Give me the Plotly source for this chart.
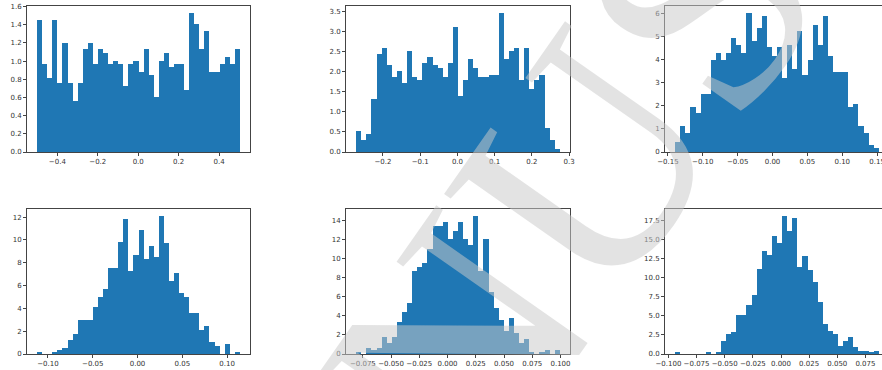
import plotly.graph_objects as go

# ---- data: density histogram heights (40 bins each) and bin ranges ----
h1 = [1.45, 0.97, 0.81, 1.45, 0.76, 1.20, 0.76, 0.56, 0.76, 1.13,
      1.20, 0.97, 1.13, 1.09, 0.97, 1.00, 0.97, 0.73, 0.97, 1.00,
      0.88, 1.13, 0.85, 0.61, 1.00, 1.09, 0.93, 0.97, 0.97, 0.68,
      1.53, 1.41, 1.13, 1.33, 0.88, 0.88, 0.97, 1.05, 0.97, 1.13]
h2 = [0.52, 0.30, 0.45, 1.33, 2.44, 2.59, 2.16, 1.86, 2.01, 1.71,
      2.52, 1.86, 1.79, 2.23, 2.37, 2.16, 2.09, 1.86, 2.23, 3.12,
      1.41, 1.79, 2.31, 2.09, 1.86, 1.86, 1.93, 1.93, 3.47, 2.31,
      2.52, 2.59, 1.79, 2.59, 1.56, 1.79, 1.93, 0.60, 0.30, 0.07]
h3 = [0.42, 1.12, 0.84, 1.93, 1.68, 2.50, 2.50, 3.98, 4.28, 3.98,
      4.28, 4.93, 4.65, 4.28, 6.02, 4.82, 5.38, 5.90, 4.55, 4.17,
      4.55, 3.20, 4.65, 3.60, 5.25, 3.32, 3.98, 5.50, 4.65, 5.90,
      4.17, 3.45, 3.45, 3.45, 1.93, 2.10, 1.12, 0.84, 0.30, 0.16]
h4 = [0.18, 0.00, 0.00, 0.18, 0.35, 0.53, 1.20, 1.75, 3.00, 3.00,
      3.00, 4.10, 5.00, 5.70, 7.50, 7.50, 9.80, 11.80, 7.30, 8.70,
      10.90, 8.30, 9.50, 8.50, 12.10, 9.70, 6.40, 7.10, 5.35, 5.00,
      3.60, 3.60, 2.10, 2.45, 1.06, 0.71, 0.00, 0.88, 0.00, 0.18]
h5 = [0.22, 0.00, 0.66, 0.44, 0.66, 1.77, 1.11, 1.77, 3.40, 4.40,
      5.40, 8.70, 9.15, 9.60, 11.00, 13.40, 13.40, 13.90, 12.10, 12.90,
      13.90, 12.10, 11.40, 14.50, 8.70, 12.10, 6.55, 4.80, 3.60, 2.44,
      3.80, 2.22, 1.11, 1.55, 0.22, 0.00, 0.22, 0.44, 0.00, 0.44]
h6 = [0.22, 0.00, 0.00, 0.00, 0.00, 0.00, 0.22, 0.00, 0.22, 1.70,
      2.60, 2.90, 5.10, 5.10, 6.40, 7.70, 11.20, 13.50, 13.00, 15.50,
      14.50, 18.10, 16.10, 17.80, 11.40, 12.80, 11.00, 9.40, 6.80, 3.90,
      3.00, 2.60, 1.10, 1.70, 2.20, 0.88, 0.44, 0.44, 0.22, 0.44]
heights = [h1, h2, h3, h4, h5, h6]

bin_lo = [-0.500, -0.272, -0.1395, -0.1121, -0.0809, -0.0940]
bin_hi = [0.503, 0.275, 0.1524, 0.1143, 0.0994, 0.0869]

xticks = [
    [-0.4, -0.2, 0.0, 0.2, 0.4],
    [-0.2, -0.1, 0.0, 0.1, 0.2, 0.3],
    [-0.15, -0.10, -0.05, 0.0, 0.05, 0.10, 0.15],
    [-0.10, -0.05, 0.0, 0.05, 0.10],
    [-0.075, -0.050, -0.025, 0.0, 0.025, 0.050, 0.075, 0.100],
    [-0.100, -0.075, -0.050, -0.025, 0.0, 0.025, 0.050, 0.075],
]
xdec = [1, 1, 2, 2, 3, 3]
yticks = [
    [0.0, 0.2, 0.4, 0.6, 0.8, 1.0, 1.2, 1.4, 1.6],
    [0.0, 0.5, 1.0, 1.5, 2.0, 2.5, 3.0, 3.5],
    [0, 1, 2, 3, 4, 5, 6],
    [0, 2, 4, 6, 8, 10, 12],
    [0, 2, 4, 6, 8, 10, 12, 14],
    [0.0, 2.5, 5.0, 7.5, 10.0, 12.5, 15.0, 17.5],
]
ydec = [1, 1, 0, 0, 0, 1]

watermark_text = "NUS"

# ---- layout geometry (pixels) ----
W, H = 882, 370
col_px = [(27, 250), (346, 570), (665, 889)]
row_px = [(6, 152), (209, 354)]


def fmt(v, d):
    s = f"{abs(v):.{d}f}"
    return ("\u2212" + s) if v < 0 and abs(v) > 1e-12 else s


fig = go.Figure()
layout = dict(
    width=W, height=H,
    margin=dict(l=0, r=0, t=0, b=0, autoexpand=False),
    paper_bgcolor="white", plot_bgcolor="white",
    showlegend=False, bargap=0,
    font=dict(family="DejaVu Sans", size=7, color="#333333"),
)

for i in range(6):
    r, c = divmod(i, 3)
    lo, hi = bin_lo[i], bin_hi[i]
    n = len(heights[i])
    bw = (hi - lo) / n
    centers = [lo + (k + 0.5) * bw for k in range(n)]
    xa = "x" if i == 0 else f"x{i+1}"
    ya = "y" if i == 0 else f"y{i+1}"
    fig.add_trace(go.Bar(x=centers, y=heights[i], width=bw,
                         marker=dict(color="#1f77b4", line=dict(width=0)),
                         xaxis=xa, yaxis=ya, hoverinfo="skip"))
    span = hi - lo
    xr0, xr1 = lo - 0.05 * span, hi + 0.05 * span
    px0, px1 = col_px[c]
    mirror_y = True
    if px1 > W:
        # axes extends beyond figure edge: clip range
        xr1 = xr0 + (W - px0) / (px1 - px0) * (xr1 - xr0)
        px1 = W
        mirror_y = False
    py0, py1 = row_px[r]
    ymax = max(heights[i]) * 1.05
    axcommon = dict(showgrid=False, zeroline=False, showline=True,
                    linecolor="#444444", linewidth=1,
                    ticks="outside", ticklen=3, tickwidth=1,
                    tickcolor="#444444", tickangle=0, automargin=False,
                    ticklabeloverflow="allow",
                    tickfont=dict(size=7, color="#333333"))
    layout["xaxis" if i == 0 else f"xaxis{i+1}"] = dict(
        domain=[px0 / W, px1 / W], range=[xr0, xr1], anchor=ya,
        tickvals=xticks[i], ticktext=[fmt(v, xdec[i]) for v in xticks[i]],
        mirror=True, **axcommon)
    layout["yaxis" if i == 0 else f"yaxis{i+1}"] = dict(
        domain=[1 - py1 / H, 1 - py0 / H], range=[0, ymax], anchor=xa,
        tickvals=yticks[i], ticktext=[fmt(v, ydec[i]) for v in yticks[i]],
        mirror=mirror_y, **axcommon)

layout["annotations"] = [dict(
    text=watermark_text, xref="paper", yref="paper",
    x=570 / W, y=1 - 185 / H, xanchor="center", yanchor="middle",
    showarrow=False, textangle=-55,
    font=dict(family="Liberation Serif", size=310, color="rgba(201,201,201,0.52)"),
)]

fig.update_layout(**layout)
fig.write_html("out.html")
